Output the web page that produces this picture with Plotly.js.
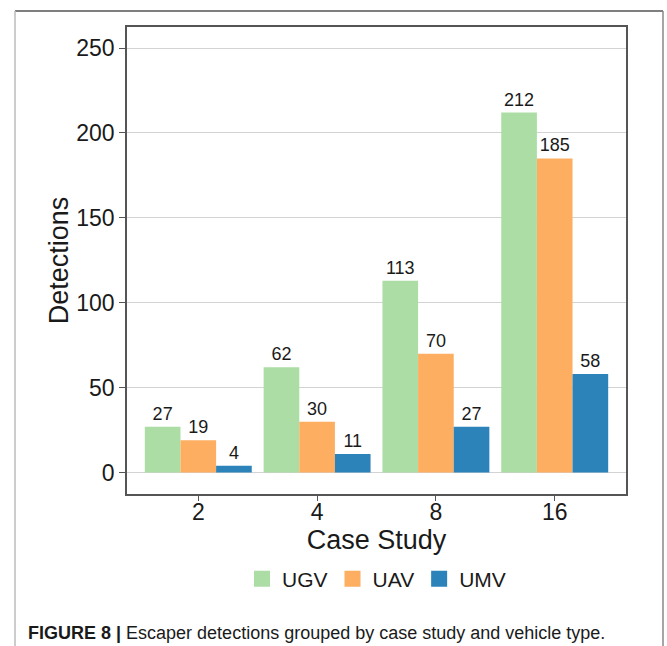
<!DOCTYPE html>
<html>
<head>
<meta charset="utf-8">
<script src="https://cdn.plot.ly/plotly-3.0.1.min.js"></script>
<style>html,body{margin:0;padding:0;background:#fff;}#chart{width:667px;height:646px;}</style>
</head>
<body>
<div id="chart"></div>
<script>
var caseStudies = ["2", "4", "8", "16"];
var seriesNames = ["UGV", "UAV", "UMV"];
var ugv = [27, 62, 113, 212];
var uav = [19, 30, 70, 185];
var umv = [4, 11, 27, 58];
var colors = ["#abdda4", "#fdae61", "#2b83ba"];
var values = [ugv, uav, umv];

var font = "Liberation Sans, Arial, Helvetica, sans-serif";

var traces = values.map(function (v, i) {
  return {
    type: "bar",
    name: seriesNames[i],
    legendgroup: seriesNames[i],
    showlegend: false,
    x: caseStudies,
    y: v,
    marker: {color: colors[i], line: {width: 0}},
    text: v.map(String),
    textposition: "outside",
    cliponaxis: false,
    textfont: {family: font, size: 18, color: "#1a1a1a"},
    hoverinfo: "x+y+name"
  };
});

// legend entries with larger square keys, one per series
seriesNames.forEach(function (n, i) {
  traces.push({
    type: "scatter",
    mode: "markers",
    name: n,
    legendgroup: n,
    x: [null],
    y: [null],
    marker: {symbol: "square", size: 16, color: colors[i]},
    hoverinfo: "skip"
  });
});

function px2x(px) { return (px - 127) / 499; }
function py2y(py) { return (494 - py) / 467; }

var layout = {
  width: 667,
  height: 646,
  margin: {l: 127, r: 41, t: 27, b: 152},
  paper_bgcolor: "#ffffff",
  plot_bgcolor: "#ffffff",
  barmode: "group",
  bargap: 0.1,
  bargroupgap: 0,
  font: {family: font, color: "#1a1a1a"},
  showlegend: true,
  legend: {
    orientation: "h",
    x: 0.5, xanchor: "center",
    y: py2y(579), yanchor: "middle",
    font: {family: font, size: 21, color: "#1a1a1a"},
    traceorder: "normal",
    itemsizing: "trace",
    itemwidth: 30
  },
  xaxis: {
    type: "category",
    range: [-0.6, 3.6],
    showline: true, mirror: true, linecolor: "#555555", linewidth: 1.5,
    ticks: "outside", ticklen: 5, tickcolor: "#555555", tickwidth: 1,
    ticklabelstandoff: -8,
    showgrid: false,
    tickfont: {family: font, size: 23, color: "#1a1a1a"},
    title: {text: "Case Study", font: {family: font, size: 27, color: "#1a1a1a"}, standoff: 0}
  },
  yaxis: {
    range: [-12.6, 262.4],
    tickmode: "array",
    tickvals: [0, 50, 100, 150, 200, 250],
    showline: true, mirror: true, linecolor: "#555555", linewidth: 1.5,
    ticks: "outside", ticklen: 6, tickcolor: "#555555", tickwidth: 1,
    showgrid: true, gridcolor: "#d3d3d3", gridwidth: 1,
    zeroline: false,
    tickfont: {family: font, size: 23, color: "#1a1a1a"},
    title: {text: "Detections", font: {family: font, size: 27, color: "#1a1a1a"}, standoff: 0}
  },
  shapes: [
    {type: "line", xref: "paper", yref: "paper", x0: px2x(15), x1: px2x(663), y0: py2y(11), y1: py2y(11), line: {color: "#555555", width: 1.5}},
    {type: "line", xref: "paper", yref: "paper", x0: px2x(15), x1: px2x(15), y0: py2y(11), y1: py2y(660), line: {color: "#bbbbbb", width: 1.5}},
    {type: "line", xref: "paper", yref: "paper", x0: px2x(663), x1: px2x(663), y0: py2y(11), y1: py2y(660), line: {color: "#888888", width: 1.5}}
  ],
  annotations: [
    {
      xref: "paper", yref: "paper",
      x: px2x(26), xanchor: "left",
      y: py2y(633), yanchor: "middle",
      showarrow: false,
      text: "<b>FIGURE 8 |</b> Escaper detections grouped by case study and vehicle type.",
      font: {family: font, size: 18, color: "#1a1a1a"}
    }
  ]
};

Plotly.newPlot("chart", traces, layout, {displayModeBar: false, responsive: false});
</script>
</body>
</html>
